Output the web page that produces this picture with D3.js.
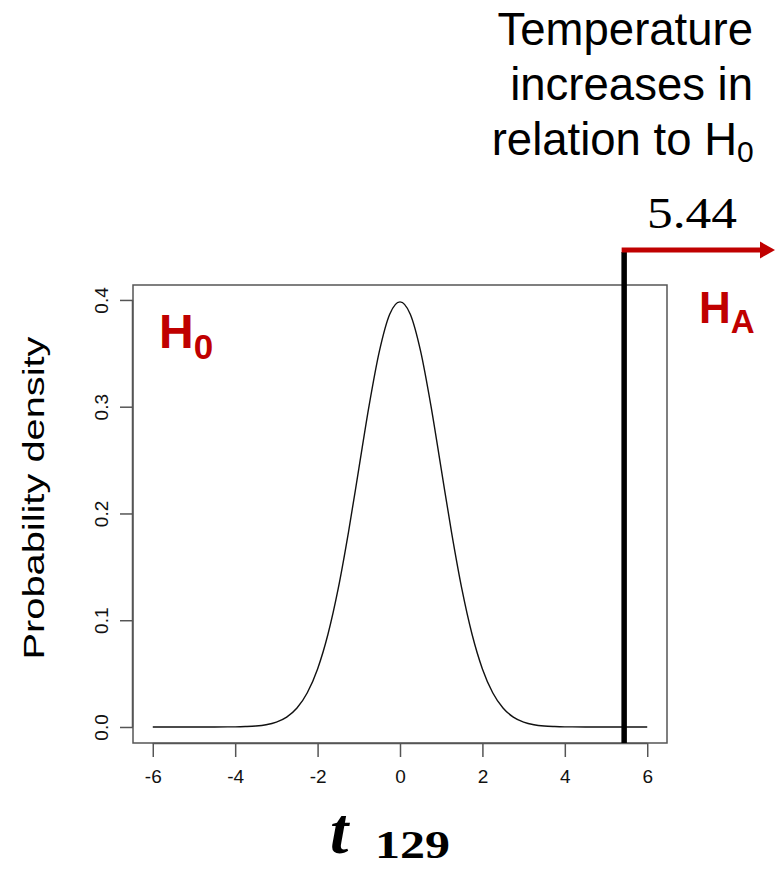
<!DOCTYPE html>
<html>
<head>
<meta charset="utf-8">
<script src="https://cdn.jsdelivr.net/npm/d3@7"></script>
<style>
  html, body { margin: 0; padding: 0; background: #fff; }
  svg { display: block; }
</style>
</head>
<body>
<svg id="chart" width="779" height="869"></svg>
<script>
// ---- data ----
const tValues = [-6, -5.5, -5, -4.5, -4, -3.75, -3.5, -3.25, -3, -2.75, -2.5, -2.25, -2, -1.75, -1.5, -1.25, -1, -0.75, -0.5, -0.25,
                 0, 0.25, 0.5, 0.75, 1, 1.25, 1.5, 1.75, 2, 2.25, 2.5, 2.75, 3, 3.25, 3.5, 3.75, 4, 4.5, 5, 5.5, 6];
const densityValues = [0, 0, 0, 0.00002, 0.00015, 0.0004, 0.0009, 0.0021, 0.0046, 0.0093, 0.0178, 0.0321, 0.0544, 0.0866, 0.1295, 0.1825, 0.2418, 0.3010, 0.3520, 0.3866,
                       0.3982, 0.3866, 0.3520, 0.3010, 0.2418, 0.1825, 0.1295, 0.0866, 0.0544, 0.0321, 0.0178, 0.0093, 0.0046, 0.0021, 0.0009, 0.0004, 0.00015, 0.00002, 0, 0, 0];
const xTicks = [-6, -4, -2, 0, 2, 4, 6];
const yTicks = [0.0, 0.1, 0.2, 0.3, 0.4];
const yTickLabels = ["0.0", "0.1", "0.2", "0.3", "0.4"];
const observedT = 5.44;
const observedLabel = "5.44";
const noteLines = ["Temperature", "increases in", "relation to H"];

const RED = "#C00000";
const svg = d3.select("#chart");

const box = {left: 133, right: 667, top: 285, bottom: 743};
const x = d3.scaleLinear().domain([-6.48, 6.48]).range([box.left, box.right]);
const y = d3.scaleLinear().domain([-0.015, 0.414]).range([box.bottom, box.top]);

// curve
const pts = tValues.map((t, i) => [t, densityValues[i]]);
svg.append("path")
  .datum(pts)
  .attr("fill", "none")
  .attr("stroke", "#111")
  .attr("stroke-width", 1.4)
  .attr("d", d3.line().x(d => x(d[0])).y(d => y(d[1])).curve(d3.curveMonotoneX));

// plot box
svg.append("rect")
  .attr("x", box.left).attr("y", box.top)
  .attr("width", box.right - box.left).attr("height", box.bottom - box.top)
  .attr("fill", "none").attr("stroke", "#555").attr("stroke-width", 1.5);

// x axis
const xAxis = d3.axisBottom(x).tickValues(xTicks).tickSize(14).tickSizeOuter(0).tickPadding(13)
  .tickFormat(d => String(d));
const gx = svg.append("g").attr("transform", `translate(0,${box.bottom})`).call(xAxis);
gx.select(".domain").attr("d", `M${x(-6)},0.5H${x(6)}`).attr("stroke", "#555").attr("stroke-width", 1.5);
gx.selectAll(".tick line").attr("stroke", "#555").attr("stroke-width", 1.5);
gx.selectAll(".tick text").attr("font-family", "Liberation Sans, Arial, sans-serif")
  .attr("font-size", 19).attr("fill", "#111");

// y axis
const yAxis = d3.axisLeft(y).tickValues(yTicks).tickSize(13).tickSizeOuter(0)
  .tickFormat((d, i) => yTickLabels[i]);
const gy = svg.append("g").attr("transform", `translate(${box.left},0)`).call(yAxis);
gy.select(".domain").attr("d", `M-0.5,${y(0)}V${y(0.4)}`).attr("stroke", "#555").attr("stroke-width", 1.5);
gy.selectAll(".tick line").attr("stroke", "#555").attr("stroke-width", 1.5);
gy.selectAll(".tick text")
  .attr("font-family", "Liberation Sans, Arial, sans-serif")
  .attr("font-size", 19).attr("fill", "#111")
  .attr("x", null).attr("dy", null)
  .attr("text-anchor", "middle")
  .attr("transform", "translate(-32,0) rotate(-90)")
  .attr("dy", "0.35em");

// y axis title
svg.append("text")
  .attr("transform", "translate(44,498) rotate(-90)")
  .attr("text-anchor", "middle")
  .attr("font-family", "Liberation Sans, Arial, sans-serif")
  .attr("font-size", 30)
  .attr("textLength", 323)
  .attr("lengthAdjust", "spacingAndGlyphs")
  .attr("fill", "#000")
  .text("Probability density");

// x axis title
const xt = svg.append("text")
  .attr("x", 330).attr("y", 853)
  .attr("font-family", "Liberation Serif, DejaVu Serif, serif")
  .attr("font-weight", "bold")
  .attr("fill", "#000");
xt.append("tspan").attr("font-style", "italic").attr("font-size", 66).text("t");
xt.append("tspan").attr("x", 375).attr("y", 858).attr("font-size", 40)
  .attr("textLength", 75).attr("lengthAdjust", "spacingAndGlyphs").text("129");

// observed statistic line
svg.append("line")
  .attr("x1", x(observedT)).attr("x2", x(observedT))
  .attr("y1", 252).attr("y2", box.bottom)
  .attr("stroke", "#000").attr("stroke-width", 5.5);

// red arrow
svg.append("line")
  .attr("x1", x(observedT) - 2.5).attr("x2", 762)
  .attr("y1", 250).attr("y2", 250)
  .attr("stroke", RED).attr("stroke-width", 5);
svg.append("path")
  .attr("d", "M760,241.5 L775,250 L760,258.5 Z")
  .attr("fill", RED);

// 5.44 label
svg.append("text")
  .attr("x", 647).attr("y", 228)
  .attr("font-family", "Liberation Serif, DejaVu Serif, serif")
  .attr("font-size", 44)
  .attr("textLength", 90)
  .attr("lengthAdjust", "spacingAndGlyphs")
  .attr("fill", "#000")
  .text(observedLabel);

// note text
const noteBaselines = [45, 100, 155];
noteLines.forEach((line, i) => {
  svg.append("text")
    .attr("x", i === 2 ? 737 : 753).attr("y", noteBaselines[i])
    .attr("text-anchor", "end")
    .attr("font-family", "Liberation Sans, Arial, sans-serif")
    .attr("font-size", 45.5)
    .attr("fill", "#000")
    .text(line);
});
svg.append("text")
  .attr("x", 737).attr("y", 162)
  .attr("font-family", "Liberation Sans, Arial, sans-serif")
  .attr("font-size", 30)
  .attr("fill", "#000")
  .text("0");

// H0 label
const h0 = svg.append("text")
  .attr("x", 159).attr("y", 348)
  .attr("font-family", "Liberation Sans, Arial, sans-serif")
  .attr("font-weight", "bold")
  .attr("fill", RED);
h0.append("tspan").attr("font-size", 48).text("H");
h0.append("tspan").attr("font-size", 35).attr("dy", 11).text("0");

// HA label
const ha = svg.append("text")
  .attr("x", 699).attr("y", 323)
  .attr("font-family", "Liberation Sans, Arial, sans-serif")
  .attr("font-weight", "bold")
  .attr("fill", RED);
ha.append("tspan").attr("font-size", 44).text("H");
ha.append("tspan").attr("font-size", 33).attr("dy", 10).text("A");
</script>
</body>
</html>
